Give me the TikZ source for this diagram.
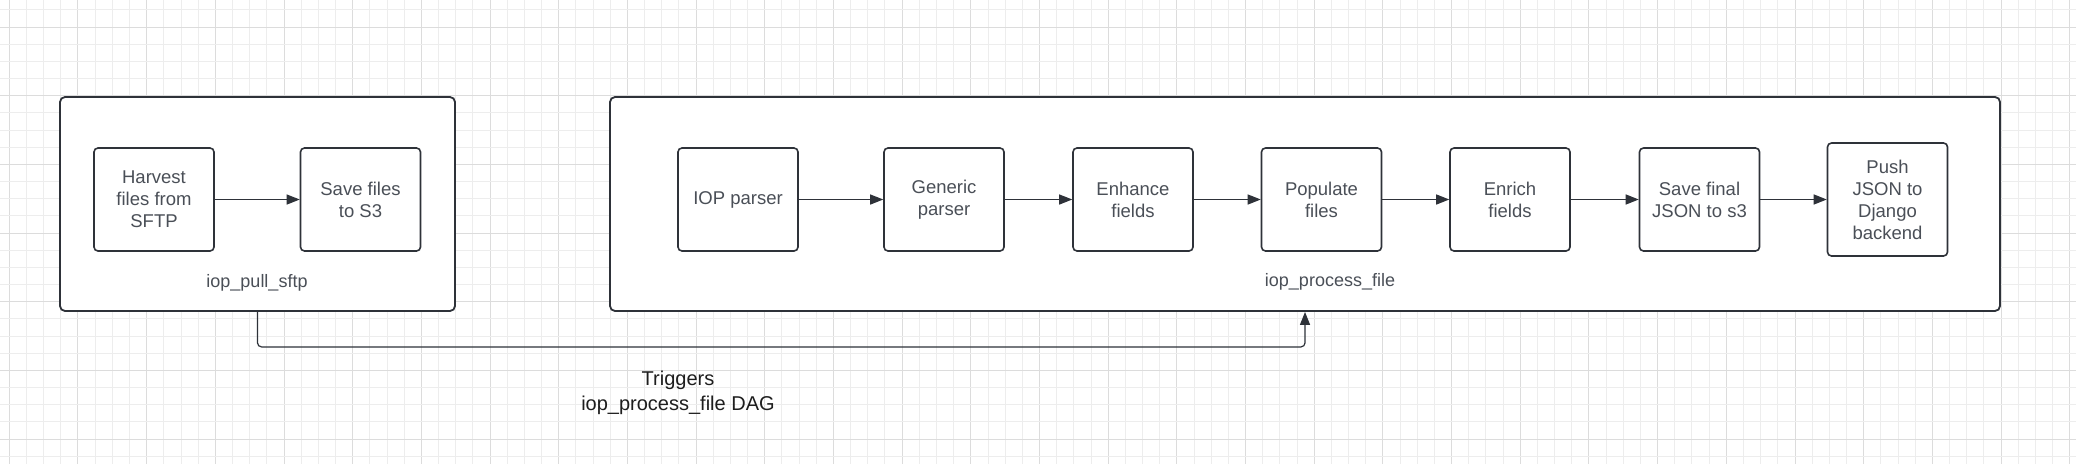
\documentclass[tikz,border=0pt]{standalone}
\usepackage{fontspec}
\setmainfont{Liberation Sans}
\usetikzlibrary{arrows.meta}

\definecolor{gridminor}{HTML}{EDEDED}
\definecolor{gridmajor}{HTML}{DCDCDC}
\definecolor{linecol}{HTML}{2E3239}
\definecolor{textcol}{HTML}{4A4F57}
\definecolor{notecol}{HTML}{1E1E1E}

\tikzset{
  dagbox/.style={draw=linecol, line width=1.8pt, fill=white, rounded corners=5pt, inner sep=0pt},
  taskbox/.style={draw=linecol, line width=1.6pt, fill=white, rounded corners=4pt,
    minimum width=120pt, minimum height=103pt, inner sep=0pt, align=center,
    text=textcol, font=\fontsize{18.5}{22}\selectfont},
  flow/.style={draw=linecol, line width=1.2pt, -{Triangle[length=13pt,width=10pt]}},
  daglabel/.style={text=textcol, font=\fontsize{18}{22}\selectfont},
}

\begin{document}
\begin{tikzpicture}[x=1pt, y=-1pt]

    \def\g{17.17}   %minor grid step
    \def\gx{9.3}    %grid offset x
    \def\gy{27}     %grid offset y
    \def\ty{199.5}  %centre line of the tasks

    \useasboundingbox (0,0) rectangle (2076,464);
    \fill[white] (0,0) rectangle (2076,464);

    %GRID
    \foreach \k in {0,...,120}{
        \pgfmathtruncatemacro\m{mod(\k,4)}
        \ifnum\m=0 \def\gc{gridmajor}\else\def\gc{gridminor}\fi
        \draw[\gc, line width=1pt] (\gx+\k*\g,0)--(\gx+\k*\g,464);
    } %end of x loop
    \foreach \k in {-1,...,25}{
        \pgfmathtruncatemacro\m{mod(\k+4,4)}
        \ifnum\m=0 \def\gc{gridmajor}\else\def\gc{gridminor}\fi
        \draw[\gc, line width=1pt] (0,\gy+\k*\g)--(2076,\gy+\k*\g);
    } %end of y loop

    %DAGS
    \node[dagbox, minimum width=395pt, minimum height=214pt] (pull) at (257.5,204) {};
    \node[dagbox, minimum width=1390pt, minimum height=214pt] (process) at (1305,204) {};
    \node[daglabel] (pulllabel) at (257,283) {iop\_pull\_sftp};
    \node[daglabel] (processlabel) at (1330,282) {iop\_process\_file};

    %iop_pull_sftp tasks
    \node[taskbox] (harvest) at (154,\ty) {Harvest\\files from\\SFTP};
    \node[taskbox] (savefiles) at (360.5,\ty) {Save files\\to S3};
    \draw[flow] (harvest) -- (savefiles);

    %iop_process_file tasks
    \foreach \name/\x/\txt in {iop/738/IOP parser, generic/944/Generic\\parser,
        enhance/1133/Enhance\\fields, populate/1321.5/Populate\\files,
        enrich/1510/Enrich\\fields, savefinal/1699.5/Save final\\JSON to s3}{
        \node[taskbox] (\name) at (\x,\ty) {\txt};
    }
    \node[taskbox, minimum height=113pt] (push) at (1887.5,\ty) {Push\\JSON to\\Django\\backend};
    \foreach \a/\b in {iop/generic, generic/enhance, enhance/populate,
        populate/enrich, enrich/savefinal, savefinal/push}{
        \draw[flow] (\a) -- (\b);
    }

    %trigger between the DAGs
    \draw[flow, rounded corners=4pt] (pull.south) -- ++(0,35) -| (process.south);
    \node[align=center, text=notecol, font=\fontsize{20}{25}\selectfont] (trigger) at (678,392.5) {Triggers\\iop\_process\_file DAG};

\end{tikzpicture}
\end{document}
